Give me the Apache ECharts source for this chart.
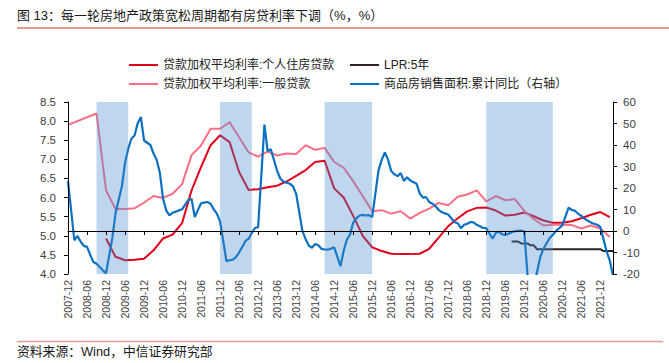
<!DOCTYPE html>
<html><head><meta charset="utf-8">
<script src="https://cdn.jsdelivr.net/npm/echarts@6/dist/echarts.min.js"></script>
<style>html,body{margin:0;padding:0;background:#fff}#c{width:669px;height:363px}</style>
</head><body><div id="c"></div>
<script>
const titleText = '图 13：每一轮房地产政策宽松周期都有房贷利率下调（%，%）';
const sourceText = '资料来源：Wind，中信证券研究部';
const seriesNames = ['贷款加权平均利率:个人住房贷款', '贷款加权平均利率:一般贷款', 'LPR:5年', '商品房销售面积:累计同比（右轴）'];

// monthly categories 2007-12 .. 2022-04
const firstMonth = [2007, 12], lastMonth = [2022, 4];
const categories = [];
for (let y = firstMonth[0], m = firstMonth[1]; y < lastMonth[0] || (y === lastMonth[0] && m <= lastMonth[1]); ) {
  categories.push(y + '-' + (m < 10 ? '0' + m : '' + m));
  m++; if (m > 12) { m = 1; y++; }
}

// quarterly observation months (2008-12 .. 2022-03)
const quarterMonths = ['2008-12','2009-03','2009-06','2009-09','2009-12','2010-03','2010-06','2010-09','2010-12',
 '2011-03','2011-06','2011-09','2011-12','2012-03','2012-06','2012-09','2012-12','2013-03','2013-06','2013-09','2013-12',
 '2014-03','2014-06','2014-09','2014-12','2015-03','2015-06','2015-09','2015-12','2016-03','2016-06','2016-09','2016-12',
 '2017-03','2017-06','2017-09','2017-12','2018-03','2018-06','2018-09','2018-12','2019-03','2019-06','2019-09','2019-12',
 '2020-03','2020-06','2020-09','2020-12','2021-03','2021-06','2021-09','2021-12','2022-03'];

const housingLoanRate = [4.93,4.45,4.36,4.37,4.40,4.62,4.93,5.03,5.33,
 6.19,6.80,7.37,7.63,7.45,6.67,6.20,6.22,6.27,6.31,6.42,6.57,
 6.72,6.93,6.96,6.24,6.00,5.52,5.00,4.70,4.60,4.53,4.52,4.52,
 4.53,4.66,4.95,5.25,5.46,5.64,5.73,5.74,5.66,5.53,5.55,5.61,
 5.51,5.40,5.34,5.34,5.38,5.46,5.55,5.62,5.49];

const generalLoanEarlyMonths = ['2007-12','2008-09'];
const generalLoanEarlyRate = [7.90, 8.20];
const generalLoanRate = [6.19,5.70,5.70,5.72,5.87,6.04,5.99,6.10,6.35,
 7.11,7.36,7.80,7.80,7.97,7.58,7.18,7.07,7.20,7.10,7.15,7.14,
 7.37,7.25,7.30,6.93,6.78,6.43,6.04,5.64,5.67,5.58,5.64,5.45,
 5.60,5.71,5.86,5.80,6.02,6.08,6.19,5.90,6.04,5.93,5.96,5.65,
 5.44,5.27,5.29,5.29,5.28,5.19,5.27,5.19,4.97];

const lprMonths = ['2019-08','2019-09','2019-10','2019-11','2019-12','2020-01','2020-02','2020-03','2020-04','2020-05',
 '2020-06','2020-07','2020-08','2020-09','2020-10','2020-11','2020-12','2021-01','2021-02','2021-03','2021-04',
 '2021-05','2021-06','2021-07','2021-08','2021-09','2021-10','2021-11','2021-12','2022-01','2022-02','2022-03','2022-04'];
const lpr5y = [4.85,4.85,4.85,4.80,4.80,4.80,4.75,4.75,4.65,4.65,
 4.65,4.65,4.65,4.65,4.65,4.65,4.65,4.65,4.65,4.65,4.65,
 4.65,4.65,4.65,4.65,4.65,4.65,4.65,4.65,4.60,4.60,4.60,4.60];

// monthly, aligned with categories (2007-12 first); January not published
const salesAreaYoY = [23.2,
 null,-4.3,-2.3,-5.0,-6.9,-7.4,-11.0,-14.4,-15.2,-16.7,-18.3,-19.7,
 null,-3.1,8.2,14.5,20.7,31.7,38.2,42.9,44.4,50.1,53.0,42.1,
 null,40.0,36.0,33.0,27.0,15.0,9.6,7.3,8.5,9.0,9.6,10.1,
 null,14.5,14.9,6.5,9.7,12.9,13.2,13.5,12.7,10.0,8.1,4.4,
 null,-14.0,-13.6,-13.3,-12.2,-10.0,-7.4,-4.6,-3.6,-0.9,1.4,1.8,
 null,49.5,37.1,38.0,33.0,28.0,24.4,23.0,22.5,22.0,20.8,17.3,
 null,-0.1,-3.8,-6.8,-7.8,-6.0,-6.6,-8.3,-8.6,-8.7,-8.2,-7.6,
 null,-16.3,-9.2,-4.1,-1.6,3.9,5.9,7.2,7.5,7.2,7.4,6.5,
 null,28.2,33.1,36.5,33.2,27.9,26.4,25.5,26.9,23.3,25.0,23.5,
 null,22.0,17.5,15.5,15.8,13.5,12.7,11.5,9.8,8.7,8.2,7.7,
 null,4.1,3.6,1.3,2.9,3.3,4.2,4.0,2.9,2.2,1.4,1.3,
 null,-3.6,-0.9,-0.3,-1.6,-1.8,-1.3,-0.6,-0.1,0.1,0.2,-0.1,
 null,-39.9,-26.3,-19.3,-12.3,-8.4,-5.8,-3.3,-1.8,0.0,1.3,2.6,
 null,10.9,9.8,9.4,8.0,7.0,5.8,4.8,4.0,3.4,2.9,1.9,
 null,-9.6,-13.8,-20.9];

const easingPeriods = [['2008-09','2009-07'],['2011-12','2012-10'],['2014-09','2015-12'],['2018-12','2020-09']];

const leftAxis = {min: 4, max: 8.5, interval: 0.5};
const rightAxis = {min: -20, max: 60, interval: 10};

const pair = (ms, vs) => ms.map((m, i) => [m, vs[i]]);
const fontLatin = '"Liberation Sans","Noto Sans CJK SC",sans-serif';
const axisColor = '#000';
const labelColor = '#404040';

const chart = echarts.init(document.getElementById('c'), null, {renderer: 'svg'});
chart.setOption({
  animation: false,
  backgroundColor: '#fff',
  textStyle: {fontFamily: fontLatin},
  grid: {left: 68, right: 56, top: 102, bottom: 89, containLabel: false},
  legend: [
    {left: 124, top: 53, orient: 'vertical', itemGap: 5, itemWidth: 29, itemHeight: 2, icon: 'rect',
     data: [seriesNames[0], seriesNames[1]], textStyle: {fontSize: 12, color: '#222', lineHeight: 14, fontFamily: fontLatin}},
    {left: 345, top: 53, orient: 'vertical', itemGap: 5, itemWidth: 29, itemHeight: 2, icon: 'rect',
     data: [seriesNames[2], seriesNames[3]], textStyle: {fontSize: 12, color: '#222', lineHeight: 14, fontFamily: fontLatin}}
  ],
  xAxis: {
    type: 'category', data: categories, boundaryGap: false, z: 20,
    axisLine: {lineStyle: {color: axisColor, width: 1}},
    axisTick: {interval: 5, length: 4, lineStyle: {color: axisColor}},
    axisLabel: {interval: 5, rotate: 90, fontSize: 10.5, color: labelColor, margin: 6, fontFamily: fontLatin},
    splitLine: {show: false}
  },
  yAxis: [
    {type: 'value', position: 'left', min: leftAxis.min, max: leftAxis.max, interval: leftAxis.interval, z: 20,
     axisLine: {show: true, lineStyle: {color: axisColor, width: 1}},
     axisTick: {show: true, length: 4, lineStyle: {color: axisColor}},
     axisLabel: {fontSize: 11.5, color: labelColor, margin: 12, formatter: v => v.toFixed(1)},
     splitLine: {show: false}},
    {type: 'value', position: 'right', min: rightAxis.min, max: rightAxis.max, interval: rightAxis.interval, z: 20,
     axisLine: {show: true, lineStyle: {color: axisColor, width: 1}},
     axisTick: {show: true, length: 4, lineStyle: {color: axisColor}},
     axisLabel: {fontSize: 11.5, color: labelColor, margin: 10},
     splitLine: {show: false}}
  ],
  series: [
    {name: seriesNames[0], type: 'line', yAxisIndex: 0, data: pair(quarterMonths, housingLoanRate),
     showSymbol: false, symbol: 'none', connectNulls: true, color: '#E2001A',
     lineStyle: {width: 2, color: '#E2001A'}},
    {name: seriesNames[1], type: 'line', yAxisIndex: 0,
     data: pair(generalLoanEarlyMonths, generalLoanEarlyRate).concat(pair(quarterMonths, generalLoanRate)),
     showSymbol: false, symbol: 'none', connectNulls: true, color: '#FF6E84',
     lineStyle: {width: 2, color: '#FF6E84'}},
    {name: seriesNames[2], type: 'line', yAxisIndex: 0, data: pair(lprMonths, lpr5y),
     showSymbol: false, symbol: 'none', color: '#2E2424',
     lineStyle: {width: 2, color: '#2E2424'}},
    {name: seriesNames[3], type: 'line', yAxisIndex: 1, data: salesAreaYoY,
     showSymbol: false, symbol: 'none', connectNulls: true, color: '#0A70C2',
     lineStyle: {width: 2.2, color: '#0A70C2'},
     markArea: {silent: true, z: 10, itemStyle: {color: 'rgba(68,141,207,0.35)', borderWidth: 0},
       data: easingPeriods.map(p => [{xAxis: p[0]}, {xAxis: p[1]}])}}
  ],
  graphic: [
    {type: 'text', left: 17, top: 9, style: {text: titleText, font: '13px ' + fontLatin, fill: '#1a1a1a'}},
    {type: 'line', shape: {x1: 17, y1: 28, x2: 669, y2: 28}, style: {stroke: '#C0392B', lineWidth: 1}},
    {type: 'line', shape: {x1: 17, y1: 341.5, x2: 663, y2: 341.5}, style: {stroke: '#E29A9A', lineWidth: 1.5}},
    {type: 'text', left: 17, top: 345, style: {text: sourceText, font: '12.8px ' + fontLatin, fill: '#1a1a1a'}}
  ]
});
</script></body></html>
